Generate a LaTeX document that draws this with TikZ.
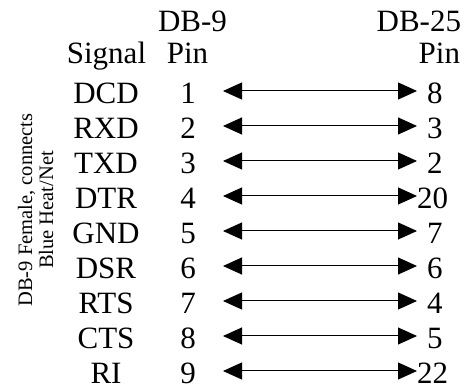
\documentclass[tikz,border=0pt]{standalone}
\usepackage{fontspec}
\setmainfont{Liberation Serif}
\usetikzlibrary{arrows.meta}
\tikzset{
  big/.style={inner sep=0pt, outer sep=0pt, text depth=0pt, font=\fontsize{31}{31}\selectfont},
  sig/.style={big, anchor=base},
  pinl/.style={big, anchor=base},
  pinr/.style={big, anchor=base west},
  hdr/.style={big, anchor=base},
  side/.style={inner sep=0pt, outer sep=0pt, font=\fontsize{20.5}{20.5}\selectfont, rotate=90, anchor=base},
  conn/.style={line width=1pt, {Triangle[length=19pt,width=17pt]}-{Triangle[length=19pt,width=17pt]}}
}
\begin{document}
\begin{tikzpicture}[x=1pt,y=1pt]
\useasboundingbox (0,0) rectangle (471,390);
% headers
\node[hdr] (hdb9) at (192.5,358) {DB-9};
\node[big, anchor=base east] (hdb25) at (461,358) {DB-25};
\node[hdr] (hsig) at (106.5,326) {Signal};
\node[hdr] (hpinl) at (187.5,326) {Pin};
\node[big, anchor=base east] (hpinr) at (460,326) {Pin};
% side label
\node[side] (side1) at (32,180) {DB-9 Female, connects};
\node[side] (side2) at (53,180) {Blue Heat/Net};
% rows
\foreach \i/\s/\l/\r/\rx in {1/DCD/1/8/427, 2/RXD/2/3/427, 3/TXD/3/2/427, 4/DTR/4/20/417, 5/GND/5/7/427, 6/DSR/6/6/427, 7/RTS/7/4/427, 8/CTS/8/5/427, 9/RI/9/22/417}{
  \pgfmathsetmacro{\yb}{286-35*(\i-1)}
  \node[sig] (s\i) at (106,\yb) {\s};
  \node[pinl] (p\i) at (188,\yb) {\l};
  \node[pinr] (q\i) at (\rx,\yb) {\r};
  \coordinate (a\i) at (223,\yb+13);
  \coordinate (b\i) at (417,\yb+13);
  \draw[conn] (a\i) -- (b\i);
}
\end{tikzpicture}
\end{document}
